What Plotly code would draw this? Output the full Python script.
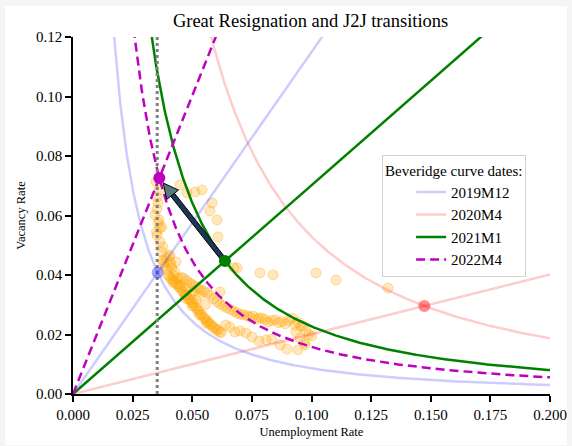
import numpy as np
import plotly.graph_objects as go

# Beveridge curve anchor dates: unemployment and vacancy rates
dates = ["2019M12", "2020M4", "2021M1", "2022M4"]
u_date = [0.0355, 0.1473, 0.0637, 0.0362]
v_date = [0.0408, 0.0296, 0.0447, 0.0726]

# curve elasticity: v is proportional to u**(-curve_exp) along a Beveridge curve
curve_exp = 1.5
u_star = 0.0353

# monthly history of (u, v)
u_early = [0.0405, 0.0412, 0.0420, 0.0428, 0.0435, 0.0442, 0.0450, 0.0457, 0.0463, 0.0470,
           0.0476, 0.0483, 0.0490, 0.0496, 0.0502, 0.0508, 0.0515, 0.0522, 0.0528, 0.0535,
           0.0541, 0.0548, 0.0555, 0.0561, 0.0567, 0.0573, 0.0580, 0.0587, 0.0594, 0.0601,
           0.0608, 0.0615, 0.0622, 0.0470, 0.0500, 0.0530, 0.0560]
v_early = [0.0395, 0.0386, 0.0383, 0.0373, 0.0369, 0.0360, 0.0357, 0.0346, 0.0343, 0.0333,
           0.0331, 0.0320, 0.0317, 0.0308, 0.0306, 0.0296, 0.0291, 0.0282, 0.0279, 0.0268,
           0.0265, 0.0256, 0.0253, 0.0245, 0.0243, 0.0235, 0.0233, 0.0224, 0.0223, 0.0216,
           0.0215, 0.0208, 0.0207, 0.0322, 0.0296, 0.0266, 0.0238]

u_recess = [0.0640, 0.0658, 0.0679, 0.0700, 0.0725, 0.0750, 0.0780, 0.0810, 0.0834, 0.0868,
            0.0897, 0.0943, 0.0973]
v_recess = [0.0232, 0.0225, 0.0208, 0.0212, 0.0205, 0.0192, 0.0178, 0.0182, 0.0185, 0.0165,
            0.0151, 0.0148, 0.0165]

u_expan = [0.0455, 0.0465, 0.0478, 0.0490, 0.0500, 0.0512, 0.0524, 0.0535, 0.0548, 0.0562,
           0.0575, 0.0590, 0.0604, 0.0618, 0.0632, 0.0646, 0.0660, 0.0675, 0.0688, 0.0700,
           0.0715, 0.0730, 0.0742, 0.0755, 0.0768, 0.0780, 0.0792, 0.0805, 0.0818, 0.0832,
           0.0847, 0.0862, 0.0876, 0.0890, 0.0905, 0.0918, 0.0930, 0.0943, 0.0955, 0.0964,
           0.0977, 0.0990, 0.0935, 0.0952, 0.0970, 0.1002]
v_expan = [0.0392, 0.0388, 0.0380, 0.0373, 0.0368, 0.0362, 0.0356, 0.0350, 0.0345, 0.0340,
           0.0332, 0.0320, 0.0310, 0.0302, 0.0296, 0.0290, 0.0284, 0.0278, 0.0272, 0.0268,
           0.0266, 0.0263, 0.0259, 0.0262, 0.0252, 0.0256, 0.0255, 0.0250, 0.0242, 0.0247,
           0.0249, 0.0240, 0.0243, 0.0236, 0.0248, 0.0255, 0.0232, 0.0242, 0.0228, 0.0229,
           0.0212, 0.0200, 0.0208, 0.0188, 0.0171, 0.0195]

u_mid = [0.0490, 0.0516, 0.0530, 0.0470, 0.0555, 0.0505]
v_mid = [0.0333, 0.0316, 0.0330, 0.0355, 0.0300, 0.0345]

u_late = [0.0373, 0.0390, 0.0407, 0.0386, 0.0415, 0.0428, 0.0398, 0.0440, 0.0419, 0.0449,
          0.0407, 0.0377, 0.0432, 0.0395, 0.0410, 0.0380, 0.0422, 0.0402]
v_late = [0.0477, 0.0457, 0.0444, 0.0430, 0.0424, 0.0410, 0.0400, 0.0390, 0.0376, 0.0366,
          0.0467, 0.0450, 0.0444, 0.0418, 0.0435, 0.0440, 0.0398, 0.0462]

u_covid = [0.0675, 0.0688, 0.0784, 0.0839, 0.1019, 0.1103, 0.1321]
v_covid = [0.0424, 0.0424, 0.0407, 0.0400, 0.0407, 0.0383, 0.0356]

u_reopen = [0.0449, 0.0478, 0.0512, 0.0541, 0.0583, 0.0574, 0.0604, 0.0608, 0.0616]
v_reopen = [0.0703, 0.0676, 0.0679, 0.0686, 0.0642, 0.0615, 0.0585, 0.0528, 0.0343]

u_tight = [0.0348, 0.0361, 0.0352, 0.0356, 0.0352, 0.0344, 0.0361, 0.0373, 0.0365, 0.0352,
           0.0365, 0.0377, 0.0350, 0.0358]
v_tight = [0.0713, 0.0686, 0.0662, 0.0642, 0.0622, 0.0602, 0.0585, 0.0561, 0.0558, 0.0534,
           0.0511, 0.0494, 0.0545, 0.0575]

u_hist = u_early + u_recess + u_expan + u_mid + u_late + u_covid + u_reopen + u_tight
v_hist = v_early + v_recess + v_expan + v_mid + v_late + v_covid + v_reopen + v_tight

x_range = [0.0, 0.2]
y_range = [0.0, 0.12]

line_col = ["rgba(0,0,255,0.2)", "rgba(255,0,0,0.2)", "#008000", "#bf00bf"]
dot_col = ["rgba(0,0,255,0.35)", "rgba(255,0,0,0.45)", "#008000", "#bf00bf"]
dash = ["solid", "solid", "solid", "9px,5px"]

SERIF = "Liberation Serif, Times New Roman, serif"

fig = go.Figure()

# monthly history
fig.add_trace(go.Scatter(
    x=u_hist, y=v_hist, mode="markers", showlegend=False, hoverinfo="skip",
    marker=dict(size=10, color="rgba(255,165,0,0.25)",
                line=dict(width=1, color="rgba(255,165,0,0.35)")),
))

u_grid = np.linspace(0.004, 0.2, 600)
u_ray = np.array([0.0, 0.2])
for name, u0, v0, lc, ds in zip(dates, u_date, v_date, line_col, dash):
    curve = v0 * (u0 / u_grid) ** curve_exp
    fig.add_trace(go.Scatter(
        x=u_grid, y=curve, mode="lines", name=name, hoverinfo="skip",
        line=dict(color=lc, width=2.5, dash=ds),
    ))
    fig.add_trace(go.Scatter(
        x=u_ray, y=u_ray * v0 / u0, mode="lines", showlegend=False, hoverinfo="skip",
        line=dict(color=lc, width=2.5, dash=ds),
    ))

# reference unemployment rate
fig.add_trace(go.Scatter(
    x=[u_star, u_star], y=y_range, mode="lines", showlegend=False, hoverinfo="skip",
    line=dict(color="gray", width=3, dash="3px,3px"),
))

# arrow from the 2021M1 point towards the 2022M4 point, built in screen units
W_px, H_px = 477.0, 357.0
sx = W_px / (x_range[1] - x_range[0])
sy = H_px / (y_range[1] - y_range[0])
S = np.array([u_date[2] * sx, v_date[2] * sy])
E = np.array([u_date[3] * sx, v_date[3] * sy])
T = S + 0.94 * (E - S)
d = (E - S) / np.linalg.norm(E - S)
n = np.array([-d[1], d[0]])
shaft_hw, head_len, head_hw = 2.4, 15.0, 7.5
B = T - d * head_len


def to_data(pts):
    pts = np.array(pts)
    return list(pts[:, 0] / sx), list(pts[:, 1] / sy)


shaft = [S + n * shaft_hw, B + n * shaft_hw, B - n * shaft_hw, S - n * shaft_hw, S + n * shaft_hw]
head = [B + n * head_hw, T, B - n * head_hw, B + n * head_hw]
xs, ys = to_data(shaft)
fig.add_trace(go.Scatter(x=xs, y=ys, mode="lines", fill="toself", fillcolor="#1d3557",
                         line=dict(color="black", width=1), showlegend=False, hoverinfo="skip"))
xs, ys = to_data(head)
fig.add_trace(go.Scatter(x=xs, y=ys, mode="lines", fill="toself", fillcolor="#587a7c",
                         line=dict(color="black", width=1), showlegend=False, hoverinfo="skip"))

# date markers
fig.add_trace(go.Scatter(
    x=u_date, y=v_date, mode="markers", showlegend=False, hoverinfo="skip",
    marker=dict(size=12, color=dot_col, line=dict(width=0)),
))

axis_common = dict(
    showline=True, linecolor="black", linewidth=1.5, ticks="outside", ticklen=6,
    tickwidth=1.5, tickcolor="black", showgrid=False, zeroline=False, mirror=False,
    automargin=False, tickfont=dict(family=SERIF, size=15, color="black"),
)

fig.update_layout(
    width=572, height=446,
    margin=dict(l=73, r=22, t=37, b=52, autoexpand=False),
    paper_bgcolor="#f5f5f5", plot_bgcolor="white",
    title=dict(text="Great Resignation and J2J transitions", x=0.543, xanchor="center",
               y=0.955, yanchor="middle", font=dict(family=SERIF, size=18.5, color="black")),
    xaxis=dict(range=x_range, tickvals=list(np.arange(0, 0.2001, 0.025)), tickformat=".3f",
               title=dict(text="Unemployment Rate", font=dict(family=SERIF, size=12.5, color="black"),
                          standoff=5),
               **axis_common),
    yaxis=dict(range=y_range, tickvals=list(np.arange(0, 0.1201, 0.02)), tickformat=".2f",
               title=dict(text="Vacancy Rate", font=dict(family=SERIF, size=12.5, color="black"),
                          standoff=8),
               **axis_common),
    legend=dict(
        title=dict(text="Beveridge curve dates:", font=dict(family=SERIF, size=15, color="black")),
        font=dict(family=SERIF, size=15, color="black"),
        x=0.648, y=0.669, xanchor="left", yanchor="top",
        bgcolor="rgba(255,255,255,0.85)", bordercolor="#d0d0d0", borderwidth=1,
        indentation=28, tracegroupgap=0,
    ),
    shapes=[dict(type="rect", xref="paper", yref="paper", x0=-0.1426, x1=1.0356,
                 y0=-0.1429, y1=1.0868, fillcolor="white", line=dict(width=0), layer="below")],
)

fig.write_html("out.html")
